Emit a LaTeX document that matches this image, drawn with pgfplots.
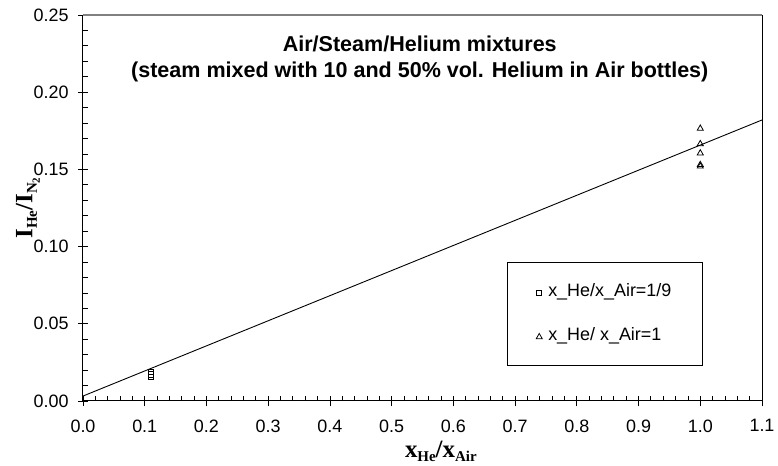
\documentclass[border=0pt]{standalone}
\usepackage{fontspec}
\setmainfont{Liberation Sans}
\newfontfamily\timesbf{Liberation Serif}[UprightFont=*-Bold]
\usepackage{pgfplots}
\pgfplotsset{compat=1.18}

% subscripts set by hand so their size and drop can be tuned
\newcommand{\sub}[2][4.5bp]{\raisebox{-#1}{\fontsize{15}{15}\selectfont #2}}
\newcommand{\subsub}[1]{\raisebox{-3bp}{\fontsize{11}{11}\selectfont #1}}

\pgfplotstableread{
x     y
0.11  0.0155
0.11  0.0172
0.11  0.0190
}\lowratio

\pgfplotstableread{
x     y
1.00  0.1765
1.00  0.1665
1.00  0.1605
1.00  0.1530
1.00  0.1520
}\equalratio

\begin{document}
\begin{tikzpicture}
\begin{axis}[
  scale only axis,
  width=679bp, height=386bp,
  xmin=0, xmax=1.1, ymin=0, ymax=0.25,
  axis x line=bottom, axis y line=left,
  axis line style={-, line width=1bp},
  xtick={0,0.1,0.2,0.3,0.4,0.5,0.6,0.7,0.8,0.9,1.0,1.1},
  ytick={0,0.05,0.10,0.15,0.20,0.25},
  minor x tick num=4, minor y tick num=4,
  tick align=center,
  major tick length=10bp, minor tick length=5bp,
  tick style={line width=0.8bp, black},
  minor x tick style={yshift=2.5bp},
  minor y tick style={xshift=2.5bp},
  xticklabel style={yshift=-10bp, /pgf/number format/.cd, fixed, fixed zerofill, precision=1},
  yticklabel style={xshift=-6bp, /pgf/number format/.cd, fixed, fixed zerofill, precision=2},
  /pgf/number format/assume math mode=true,
  ticklabel style={font=\fontsize{18}{20}\selectfont},
  xlabel={\timesbf\fontsize{25}{28}\selectfont x\sub{He}/x\sub{Air}},
  ylabel={\timesbf\fontsize{25}{28}\selectfont I\sub{He}/I\sub{N\subsub{2}}},
  every axis x label/.style={at={(axis description cs:0.527,-0.13)}, anchor=center},
  every axis y label/.style={at={(axis description cs:-0.081,0.5)}, rotate=90, anchor=center},
  clip=false,
  legend style={draw=none, fill=none, inner sep=0pt,
    at={(axis cs:0.7339,0.0557)}, anchor=west,
    row sep=26bp,
    nodes={font=\fontsize{18}{20}\selectfont, inner sep=0pt, text height=13bp, text depth=5bp},
    /tikz/every odd column/.style={column sep=6bp}},
  legend cell align=left,
  legend image code/.code={\draw[mark repeat=2,mark phase=2,#1] plot coordinates {(0bp,0bp)(5bp,0bp)(10bp,0bp)};},
]
% frame: light top edge, dark right edge
\draw[line width=1.5bp, gray] (rel axis cs:0,1) -- (rel axis cs:1,1);
\draw[line width=1bp, black] (rel axis cs:1,1) -- (rel axis cs:1,0);

\addplot[only marks, mark=square, mark size=2.6bp, mark options={line width=0.8bp, black}]
  table[x=x, y=y] {\lowratio};
\addlegendentry{x\_He/x\_Air=1/9}
\addplot[only marks, mark=triangle, mark size=3.5bp, mark options={line width=0.8bp, black}]
  table[x=x, y=y] {\equalratio};
\addlegendentry{x\_He/ x\_Air=1}

% linear fit through both groups
\addplot[black, line width=0.9bp, forget plot] coordinates {(0,0.0032) (1.1,0.182)};

% legend frame
\draw[line width=1bp] (axis cs:0.6885,0.0233) rectangle (axis cs:1.0028,0.0900);

\node[align=center, font=\bfseries\fontsize{21.6}{26}\selectfont]
  at (rel axis cs:0.496,0.886)
  {Air/Steam/Helium mixtures\\(steam mixed with 10 and 50\% vol. Helium in Air bottles)};
\end{axis}
\pgfresetboundingbox
\path (current axis.south west) ++(-83bp,-65bp) rectangle ([shift={(16bp,15bp)}]current axis.north east);
\end{tikzpicture}
\end{document}
